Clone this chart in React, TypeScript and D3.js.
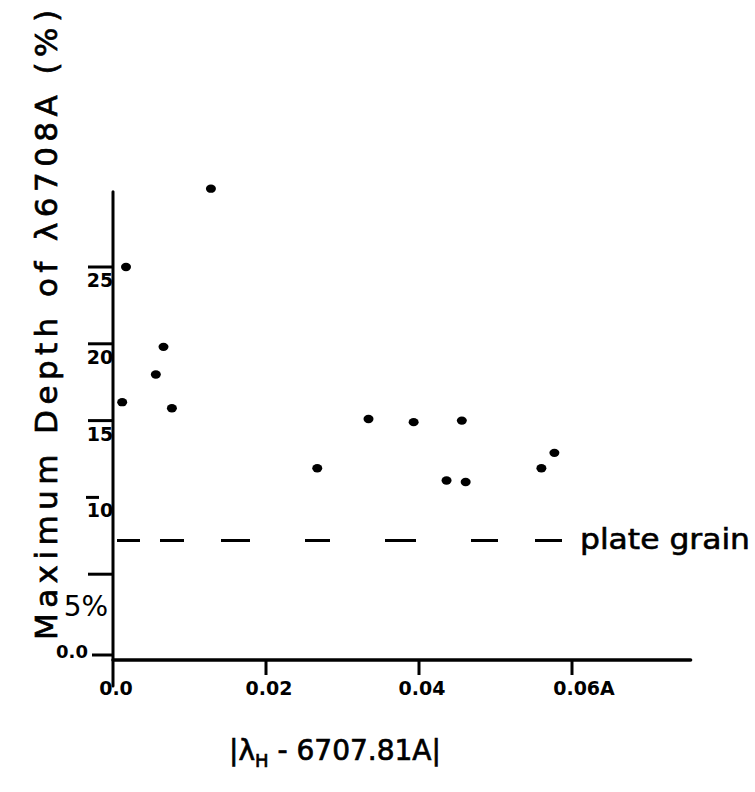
import React from "react";
import * as d3 from "d3";

const width = 755;
const height = 792;

// measured points: |lambda_H - 6707.81A| (A) vs max depth (%)
const offsets = [0.0128, 0.0017, 0.0066, 0.0056, 0.0012, 0.0077, 0.0334, 0.0393, 0.0456, 0.0267, 0.0436, 0.0461, 0.056, 0.0577];
const depths = [30.1, 25.0, 19.8, 18.0, 16.2, 15.8, 15.1, 14.9, 15.0, 11.9, 11.1, 11.0, 11.9, 12.9];

const xTicks = [0, 0.02, 0.04, 0.06];
const xTickLabels = ["0.0", "0.02", "0.04", "0.06A"];
const yTicks = [25, 20, 15, 10, 5];
const yTickLabels = ["25", "20", "15", "10", "5%"];
const plateGrain = 7.2;

const font = "'DejaVu Sans', sans-serif";

export default function App() {
  const x = d3.scaleLinear().domain([0, 0.06]).range([113, 572]);
  const y = d3.scaleLinear().domain([0, 25]).range([651, 267]);

  const xAxisEnd = x(0.0755);
  const yAxisTop = y(29.9);

  return (
    <svg
      width={width}
      height={height}
      style={{ position: "absolute", left: 0, top: 0, background: "#fff" }}
    >
      {/* axes */}
      <line x1={x(0)} x2={xAxisEnd} y1={660} y2={660} stroke="#000" strokeWidth={3.5} strokeLinecap="round" />
      <line x1={x(0)} x2={x(0)} y1={yAxisTop} y2={686} stroke="#000" strokeWidth={3} strokeLinecap="round" />

      {/* x ticks */}
      {xTicks.map((t, i) => (
        <g key={i}>
          {i > 0 && <line x1={x(t)} x2={x(t)} y1={660} y2={675} stroke="#000" strokeWidth={3} />}
          <text
            x={x(t) + (i === 3 ? 12 : 3)}
            y={695}
            fontSize={19}
            fontWeight="bold"
            fontFamily={font}
            textAnchor="middle"
          >
            {xTickLabels[i]}
          </text>
        </g>
      ))}

      {/* y ticks: overline marks above labels */}
      {yTicks.map((t, i) => (
        <g key={i}>
          <line
            x1={t === 10 ? 86 : 88}
            x2={t === 10 ? 99 : x(0)}
            y1={y(t)}
            y2={y(t)}
            stroke="#000"
            strokeWidth={3}
          />
          <text
            x={t === 5 ? 86 : 100}
            y={t === 5 ? y(t) + 42 : y(t) + 20}
            fontSize={t === 5 ? 28 : 19}
            fontWeight={t === 5 ? "normal" : "bold"}
            fontFamily={font}
            textAnchor="middle"
          >
            {yTickLabels[i]}
          </text>
        </g>
      ))}
      <text x={72} y={658} fontSize={18} fontWeight="bold" fontFamily={font} textAnchor="middle">0.0</text>
      <line x1={92} x2={x(0)} y1={655} y2={655} stroke="#000" strokeWidth={3} />

      {/* plate grain level */}
      <line
        x1={x(0)}
        x2={562}
        y1={y(plateGrain)}
        y2={y(plateGrain)}
        stroke="#000"
        strokeWidth={3}
        strokeDasharray="0 4 23 20 24 37 29 55 25 55 31 55 27 37 25"
      />
      <text
        x={580}
        y={y(plateGrain) + 9}
        fontSize={28}
        fontFamily={font}
        stroke="#000"
        strokeWidth={0.6}
        textLength={170}
        lengthAdjust="spacingAndGlyphs"
      >
        plate grain
      </text>

      {/* points */}
      {offsets.map((d, i) => (
        <ellipse key={i} cx={x(d)} cy={y(depths[i])} rx={5} ry={4.2} fill="#000" />
      ))}

      {/* axis titles */}
      <text
        x={335}
        y={760}
        fontSize={28}
        fontFamily={font}
        stroke="#000"
        strokeWidth={0.7}
        textAnchor="middle"
      >
        |λ<tspan fontSize={18} dy={7}>H</tspan>
        <tspan dy={-7}> - 6707.81A|</tspan>
      </text>
      <text
        transform="translate(57, 640) rotate(-90)"
        fontSize={31}
        fontFamily={font}
        stroke="#000"
        strokeWidth={0.7}
        textLength={630}
        lengthAdjust="spacing"
      >
        Maximum  Depth  of λ6708A (%)
      </text>
    </svg>
  );
}
